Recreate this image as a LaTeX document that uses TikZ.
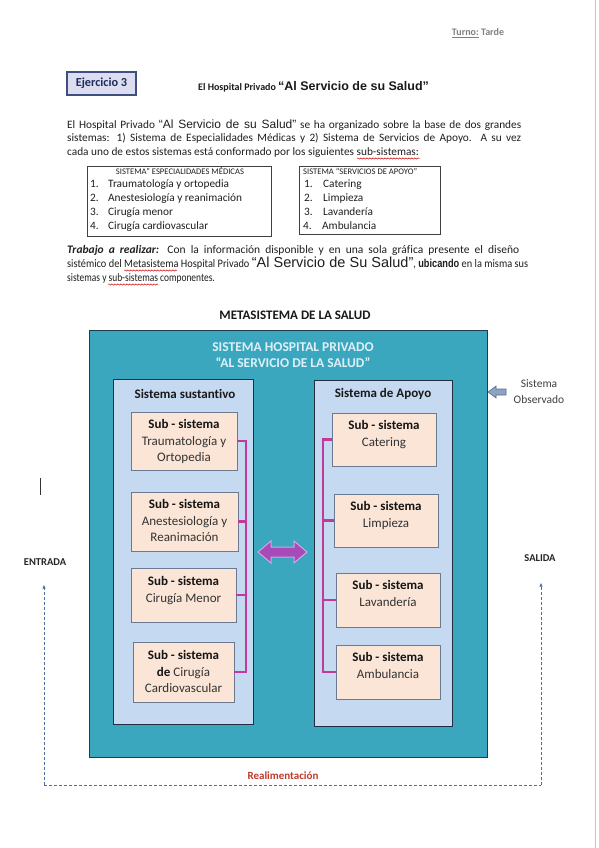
\documentclass[tikz,border=0pt]{standalone}
\usepackage{fontspec}
\usepackage{graphicx}
\setmainfont{Carlito}[Ligatures=NoCommon]
\newfontfamily\arialf{Liberation Sans}
\newfontfamily\arialc[FakeStretch=0.8]{Liberation Sans}
\newfontfamily\condf[FakeStretch=0.82,Ligatures=NoCommon]{Carlito}
\newfontfamily\condg[FakeStretch=0.9,Ligatures=NoCommon]{Carlito}
\usetikzlibrary{arrows.meta,decorations.pathmorphing,calc}
\definecolor{tealbox}{HTML}{3BA7BF}
\definecolor{tealedge}{HTML}{1E3B4A}
\definecolor{sysblue}{HTML}{C5D9F1}
\definecolor{sysedge}{HTML}{1F2F3F}
\definecolor{peach}{HTML}{FBE5D6}
\definecolor{peachedge}{HTML}{6B7A90}
\definecolor{magen}{HTML}{C2399C}
\definecolor{purparrow}{HTML}{A64BB8}
\definecolor{purpedge}{HTML}{D2A6E2}
\definecolor{hdrtext}{HTML}{DCF0F7}
\definecolor{fbblue}{HTML}{4F6FA0}
\definecolor{navy}{HTML}{1F2D5A}
\definecolor{ejfill}{HTML}{DCDDF0}
\definecolor{ejedge}{HTML}{3F4F7F}
\definecolor{obsfill}{HTML}{8DA3C4}
\definecolor{obsedge}{HTML}{5B6E8E}
\definecolor{redtxt}{HTML}{C0392B}
\begin{document}
\begin{tikzpicture}[x=1pt,y=-1pt,
  txt/.style={inner sep=0pt, anchor=base west, font=\fontsize{11.3}{13}\selectfont, text=black!88},
  txtb/.style={txt, font=\fontsize{11.5}{13}\selectfont},
  lihead/.style={inner sep=0pt, anchor=base, font=\fontsize{8.6}{10}\selectfont, text=black!88},
  listbox/.style={draw=black!75, line width=0.7pt},
  outerbox/.style={draw=tealedge, fill=tealbox, line width=1pt, inner sep=0pt},
  sysbox/.style={draw=sysedge, fill=sysblue, line width=0.9pt, inner sep=0pt},
  subbox/.style={draw=peachedge, fill=peach, line width=0.9pt, inner sep=0pt},
  subtext/.style={inner sep=0pt, anchor=north, align=center, font=\fontsize{13}{16.5}\selectfont, text=black!80},
  systitle/.style={inner sep=0pt, font=\bfseries\fontsize{13}{15}\selectfont, text=black!90},
  hdr/.style={inner sep=0pt, font=\bfseries\fontsize{13.5}{16}\selectfont, text=hdrtext},
  brk/.style={draw=magen, line width=2.3pt},
  fb/.style={draw=fbblue, line width=0.7pt, dash pattern=on 3pt off 2pt},
  sidelabel/.style={inner sep=0pt, font=\bfseries\fontsize{10.5}{12}\selectfont, text=black!85},
  wavy/.style={draw=red!80!black, line width=0.45pt, decorate, decoration={snake, segment length=3pt, amplitude=0.7pt}}
]
\useasboundingbox (0,0) rectangle (599,848);
\fill[white] (0,0) rectangle (599,848);
\draw[gray!45, line width=0.8pt] (595.5,0) -- (595.5,848);

% header
\node[inner sep=0pt, anchor=base, font=\bfseries\fontsize{10}{12}\selectfont, text=black!50] (turno) at (478,35.5) {\underline{Turno:} Tarde};
\node[draw=ejedge, fill=ejfill, line width=1.6pt, minimum width=69pt, minimum height=23pt, inner sep=0pt, font=\bfseries\fontsize{12.3}{14}\selectfont, text=navy] (ej) at (101.5,83.5) {Ejercicio 3};
\node[inner sep=0pt, anchor=base west, font=\bfseries\fontsize{10}{12}\selectfont, text=black!90] (title) at (198,91) {El Hospital Privado {\arialf\bfseries\fontsize{12.5}{14}\selectfont “Al Servicio de su Salud”}};

% paragraph 1
\node[txt] (p1a) at (67,128.5) {\makebox[454pt][s]{El Hospital Privado {\arialf\fontsize{12}{13}\selectfont “Al Servicio de su Salud”} se ha organizado sobre la base de dos grandes}};
\node[txt] (p1b) at (67,142) {\makebox[454pt][s]{sistemas: 1) Sistema de Especialidades Médicas y 2) Sistema de Servicios de Apoyo. A su vez}};
\node[txt] (p1c) at (67,155.5) {cada uno de estos sistemas está conformado por los siguientes sub-sistemas:};
\draw[wavy] (357,158.5) -- (420,158.5);

% list boxes
\node[listbox, minimum width=184pt, minimum height=70pt, inner sep=0pt] (lb1) at (179,201) {};
\node[lihead] (lh1) at (180,174.7) {SISTEMA” ESPECIALIDADES MÉDICAS};
\node[txt] (a1n) at (90,187.5) {1.};
\node[txt] (a1) at (108,187.5) {Traumatología y ortopedia};
\node[txt] (a2n) at (90,201.5) {2.};
\node[txt] (a2) at (108,201.5) {Anestesiología y reanimación};
\node[txt] (a3n) at (90,215.5) {3.};
\node[txt] (a3) at (108,215.5) {Cirugía menor};
\node[txt] (a4n) at (90,229.5) {4.};
\node[txt] (a4) at (108,229.5) {Cirugía cardiovascular};

\node[listbox, minimum width=141pt, minimum height=68pt, inner sep=0pt] (lb2) at (369.5,200) {};
\node[lihead, anchor=base west] (lh2) at (303,174.7) {SISTEMA “SERVICIOS DE APOYO”};
\node[txt] (b1n) at (304,187.5) {1.};
\node[txt] (b1) at (323,187.5) {Catering};
\node[txt] (b2n) at (304,201.5) {2.};
\node[txt] (b2) at (323,201.5) {Limpieza};
\node[txt] (b3n) at (304,215.5) {3.};
\node[txt] (b3) at (323,215.5) {Lavandería};
\node[txt] (b4n) at (303,229.5) {4.};
\node[txt] (b4) at (322,229.5) {Ambulancia};

% paragraph 2
\node[txtb] (p2a) at (67,253.5) {\makebox[452pt][s]{\textbf{\textit{Trabajo a realizar:}} Con la información disponible y en una sola gráfica presente el diseño}};
\node[txtb] (p2b) at (67,267.5) {\makebox[461pt][s]{\condg sistémico del Metasistema Hospital Privado {\arialf\fontsize{14.5}{15}\selectfont “Al Servicio de Su Salud”}, {\arialc\bfseries ubicando} en la misma sus}};
\node[txtb] (p2c) at (67,281.5) {\condf sistemas y sub-sistemas componentes.};
\draw[wavy] (124,270.5) -- (177,270.5);
\draw[wavy] (108,284.5) -- (158,284.5);

% diagram
\node[inner sep=0pt, font=\bfseries\fontsize{13}{15}\selectfont, text=black!90] (meta) at (295,315) {METASISTEMA DE LA SALUD};
\node[outerbox, minimum width=398pt, minimum height=427pt] (outer) at (288,543.5) {};
\node[hdr] (h1) at (293,347) {SISTEMA HOSPITAL PRIVADO};
\node[hdr] (h2) at (293,363) {“AL SERVICIO DE LA SALUD”};

\node[sysbox, minimum width=140pt, minimum height=345pt] (sust) at (183,551.5) {};
\node[systitle] (sustt) at (185,394) {Sistema sustantivo};
\node[sysbox, minimum width=138pt, minimum height=346pt] (apoyo) at (383,553) {};
\node[systitle] (apoyot) at (383,394) {Sistema de Apoyo};

\node[subbox, minimum width=106pt, minimum height=58pt] (L1) at (184,441) {};
\node[subtext] (L1t) at ([yshift=-8pt]L1.north) {\textbf{\color{black!92}Sub - sistema}\\Traumatología y\\Ortopedia};
\node[subbox, minimum width=107pt, minimum height=59pt] (L2) at (184.5,521.5) {};
\node[subtext] (L2t) at ([yshift=-8pt]L2.north) {\textbf{\color{black!92}Sub - sistema}\\Anestesiología y\\Reanimación};
\node[subbox, minimum width=105pt, minimum height=54pt] (L3) at (183.5,595) {};
\node[subtext] (L3t) at ([yshift=-9pt]L3.north) {\textbf{\color{black!92}Sub - sistema}\\Cirugía Menor};
\node[subbox, minimum width=101pt, minimum height=60pt] (L4) at (183.5,672) {};
\node[subtext] (L4t) at ([yshift=-9pt]L4.north) {\textbf{\color{black!92}Sub - sistema}\\\textbf{\color{black!92}de} Cirugía\\Cardiovascular};

\node[subbox, minimum width=104pt, minimum height=53pt] (R1) at (384,439.5) {};
\node[subtext] (R1t) at ([yshift=-8pt]R1.north) {\textbf{\color{black!92}Sub - sistema}\\Catering};
\node[subbox, minimum width=104pt, minimum height=53pt] (R2) at (386,520.5) {};
\node[subtext] (R2t) at ([yshift=-8pt]R2.north) {\textbf{\color{black!92}Sub - sistema}\\Limpieza};
\node[subbox, minimum width=104pt, minimum height=54pt] (R3) at (388,600) {};
\node[subtext] (R3t) at ([yshift=-8pt]R3.north) {\textbf{\color{black!92}Sub - sistema}\\Lavandería};
\node[subbox, minimum width=104pt, minimum height=54pt] (R4) at (388,672) {};
\node[subtext] (R4t) at ([yshift=-8pt]R4.north) {\textbf{\color{black!92}Sub - sistema}\\Ambulancia};

% brackets
\coordinate (lbx) at (246,0);
\coordinate (rbx) at (323,0);
\draw[brk] (L1.east) -- (L1.east -| lbx) -- (L4.east -| lbx) -- (L4.east);
\draw[brk] (L2.east) -- (L2.east -| lbx);
\draw[brk] (L3.east) -- (L3.east -| lbx);
\draw[brk] (R1.west) -- (R1.west -| rbx) -- (R4.west -| rbx) -- (R4.west);
\draw[brk] (R2.west) -- (R2.west -| rbx);
\draw[brk] (R3.west) -- (R3.west -| rbx);

% double arrow between systems
\filldraw[fill=purparrow, draw=purpedge, line width=1pt]
  (258,552) -- (271,541) -- (271,547) -- (294,547) -- (294,541) -- (307,552)
  -- (294,563) -- (294,557) -- (271,557) -- (271,563) -- cycle;

% sistema observado
\filldraw[fill=obsfill, draw=obsedge, line width=0.6pt]
  (488,392) -- (496,386) -- (496,389) -- (506,389) -- (506,395) -- (496,395) -- (496,398) -- cycle;
\node[inner sep=0pt, align=center, font=\fontsize{11.5}{16}\selectfont, text=black!75] (obs) at (539,392) {Sistema\\Observado};

% entrada / salida / feedback
\draw[black!80, line width=0.8pt] (40,478) -- (40,495);
\node[sidelabel] (ent) at (45,562) {ENTRADA};
\node[sidelabel] (sal) at (540,558) {SALIDA};
\coordinate (fbL) at (44,785);
\coordinate (fbR) at (541,785);
\draw[fb] (fbL) -- (fbR);
\draw[fb, -{Latex[length=4pt,width=3.5pt]}] (fbL) -- (fbL |- ent.south) [shorten >=19pt];
\draw[fb, -{Latex[length=4pt,width=3.5pt]}] (fbR) -- (fbR |- sal.south) [shorten >=21pt];
\node[inner sep=0pt, font=\bfseries\fontsize{11}{13}\selectfont, text=redtxt] (realim) at (283,776) {Realimentación};
\end{tikzpicture}
\end{document}
